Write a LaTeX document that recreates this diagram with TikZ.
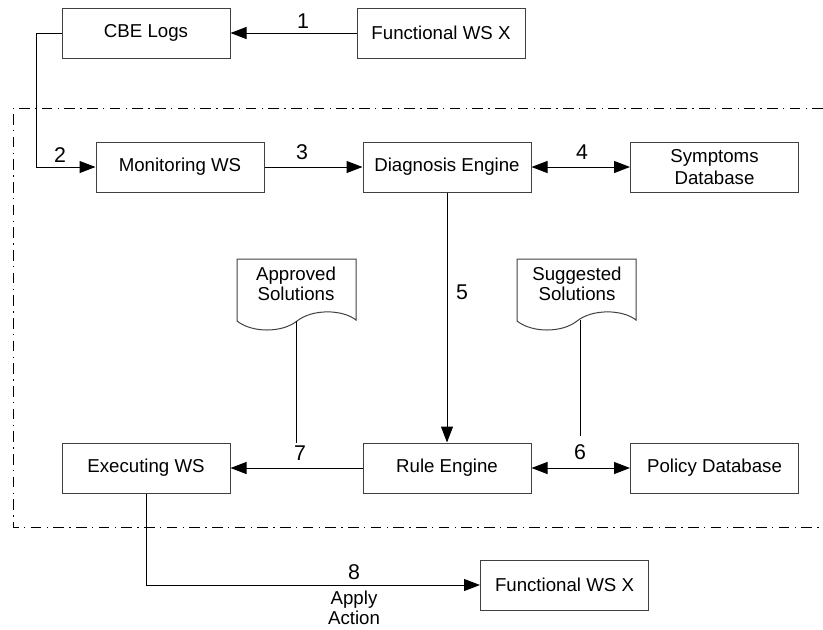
\documentclass[tikz,border=0pt]{standalone}
\usepackage{fontspec}
\setmainfont{Liberation Sans}
\usetikzlibrary{arrows.meta}
\def\docpiece{-- (119,0) -- (119,61) .. controls (105,50) and (75,50) .. (60,62) .. controls (45,74) and (15,74) .. (0,62) -- cycle}
\tikzset{
  box/.style={draw=black!75, line width=0.75pt, minimum width=126pt, minimum height=37.5pt,
    inner sep=0pt, align=center, font=\fontsize{14}{16}\selectfont},
  lbl/.style={inner sep=0pt, align=center, font=\fontsize{14}{15}\selectfont},
  num/.style={inner sep=0pt, font=\fontsize{16}{18}\selectfont},
  arr/.style={-{Triangle[length=12pt,width=9pt]}, line width=0.75pt},
  darr/.style={{Triangle[length=12pt,width=9pt]}-{Triangle[length=12pt,width=9pt]}, line width=0.75pt},
  bound/.style={dash pattern=on 8pt off 4pt on 1pt off 4pt, line width=0.75pt}
}

\begin{document}
\begin{tikzpicture}[x=0.75pt, y=-0.75pt]
    \useasboundingbox (0,0) rectangle (823,629);
    \draw[bound] (823,108) -- (13,108) -- (13,527) -- (823,527);

    \node[box] (cbe) at (146,33) {CBE Logs};
    \node[box] (fwstop) at (441,33) {Functional WS X};
    \node[box] (mon) at (180,167) {Monitoring WS};
    \node[box] (diag) at (447,167) {Diagnosis Engine};
    \node[box] (symp) at (714.5,167) {Symptoms\\Database};
    \node[box] (exe) at (146,468) {Executing WS};
    \node[box] (rule) at (447,468) {Rule Engine};
    \node[box] (pol) at (714.5,468) {Policy Database};
    \node[box] (fwsbot) at (564.5,585) {Functional WS X};

    \begin{scope}[shift={(237,259)}]
        \draw[black!75, line width=0.75pt] (0,0) \docpiece;
        \node[lbl] (apprtxt) at (59,25) {Approved\\Solutions};
        \coordinate (appr) at (59,62);
    \end{scope}
    \begin{scope}[shift={(517,259)}]
        \draw[black!75, line width=0.75pt] (0,0) \docpiece;
        \node[lbl] (suggtxt) at (60,25) {Suggested\\Solutions};
        \coordinate (sugg) at (63,61);
    \end{scope}
    \coordinate (apprend) at (296,443);
    \coordinate (suggend) at (580,436);

    \node[num] (l1) at (303,21) {1};
    \node[num] (l2) at (60,155) {2};
    \node[num] (l3) at (302,152) {3};
    \node[num] (l4) at (582,152) {4};
    \node[num] (l5) at (462,292) {5};
    \node[num] (l6) at (580,452) {6};
    \node[num] (l7) at (300,453) {7};
    \node[num] (l8) at (354,572) {8};
    \node[lbl] (apply) at (354,608) {Apply\\Action};

    \draw[arr] (fwstop) -- (cbe);
    \draw[arr] (cbe.west) -- ++(-25,0) |- (mon.west);
    \draw[arr] (mon) -- (diag);
    \draw[darr] (diag) -- (symp);
    \draw[arr] (diag) -- (rule);
    \draw[arr] (rule) -- (exe);
    \draw[darr] (rule) -- (pol);
    \draw[arr] (exe.south) |- (fwsbot.west);
    \draw[line width=0.75pt] (appr) -- (apprend);
    \draw[line width=0.75pt] (sugg) -- (suggend);
\end{tikzpicture}
\end{document}
